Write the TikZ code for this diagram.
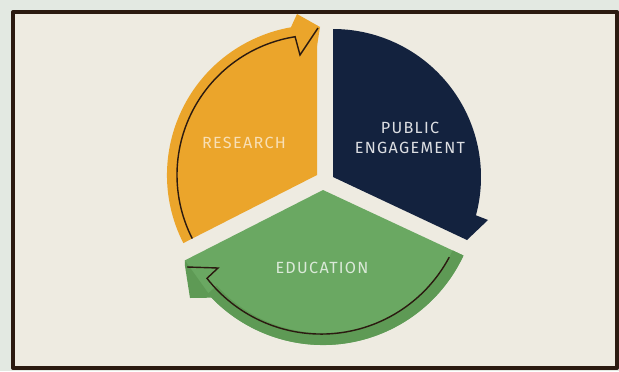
\documentclass[tikz,border=0pt]{standalone}
\usepackage{fontspec}
\setmainfont{Fira Sans}[LetterSpace=8.0]
\usetikzlibrary{calc}
\definecolor{outside}{HTML}{E3E9E2}
\definecolor{paper}{HTML}{EEEBE1}
\definecolor{ink}{HTML}{2B1A10}
\definecolor{mustard}{HTML}{EBA52B}
\definecolor{navy}{HTML}{13223E}
\definecolor{leaf}{HTML}{6AA862}
\definecolor{leafdark}{HTML}{5E9A55}
\begin{document}
\begin{tikzpicture}[x=0.025cm, y=0.025cm,
          every node/.style = {align=center, inner sep=0pt, font=\fontsize{11.5}{14}\selectfont},
          frame/.style={draw=ink, line width=2.8pt, line join=round, fill=paper},
          loopline/.style={draw=ink, line width=1pt, line join=miter}]
          \useasboundingbox (0,0) rectangle (619,371);
          \fill[outside] (0,0) rectangle (619,371);
          \draw[frame] (13,3) rectangle (617,359);
          \coordinate (cres) at (317,196);
          \coordinate (ceng) at (333,194);
          \coordinate (cedu) at (323,181);
          % research slice
          \fill[mustard] (cres) -- ++(207:150) arc[start angle=207, end angle=90, radius=150] -- cycle;
          \fill[mustard] ($(cres)+(100:150)$) -- (297,357) -- (320,344) -- (317,325) -- cycle;
          \draw[loopline] ($(cres)+(207:140)$) arc[start angle=207, end angle=99, radius=140] -- (300,316) -- (318,343);
          % engagement slice
          \fill[navy] (ceng) -- ++(90:148) arc[start angle=90, end angle=-15, radius=148] -- (488,151) -- (467,131) -- cycle;
          % education slice
          \fill[leaf] (cedu) -- ++(207:155) arc[start angle=207, end angle=335, radius=155] -- cycle;
          \fill[leafdark] ($(cedu)+(222:155)$) arc[start angle=222, end angle=335, radius=155]
            -- ($(cedu)+(335:143)$) arc[start angle=335, end angle=222, radius=143] -- cycle;
          \fill[leafdark] ($(cedu)+(207:155)$) -- (185,105) -- (190,73) -- ($(cedu)+(224:155)$) -- cycle;
          \draw[loopline] ($(cedu)+(332:143)$) arc[start angle=332, end angle=218, radius=145] -- (218,103) -- (187,104);
          % labels
          \node[text=mustard!35!white] (research) at (244,228) {RESEARCH};
          \node[text=navy!15!white] (engagement) at (410,233) {PUBLIC\\ENGAGEMENT};
          \node[text=leaf!25!white] (education) at (322,103) {EDUCATION};
\end{tikzpicture}
\end{document}
